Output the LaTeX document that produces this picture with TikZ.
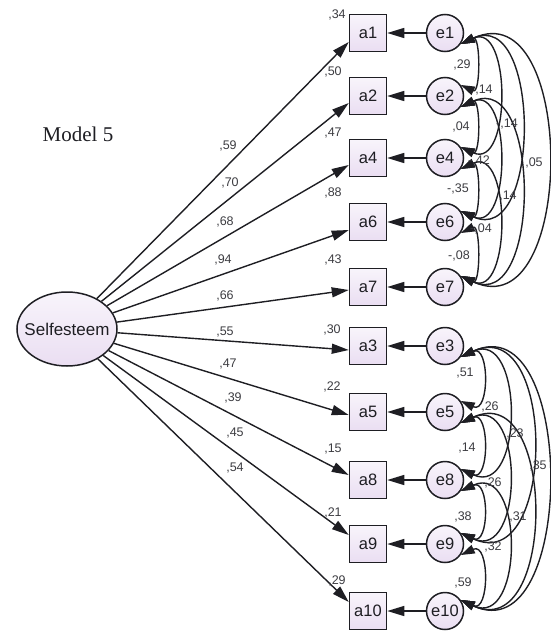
\documentclass[tikz,border=0pt]{standalone}
\usepackage{fontspec}
\setmainfont{Liberation Sans}
\newfontfamily\modelfont{Liberation Serif}
\usetikzlibrary{arrows.meta,shapes.geometric}
\definecolor{lav}{RGB}{234,222,242}
\definecolor{lavtop}{RGB}{248,244,251}
\definecolor{ink}{RGB}{30,30,35}
\definecolor{lbltxt}{RGB}{60,60,65}
\begin{document}
\begin{tikzpicture}[x=1pt,y=-1pt,
  obs/.style={draw=ink, line width=1.5pt, top color=lavtop, bottom color=lav, minimum width=37pt, minimum height=37pt, inner sep=0pt, font=\fontsize{16.5}{16.5}\selectfont, text=ink},
  err/.style={circle, draw=ink, line width=1.5pt, top color=lavtop, bottom color=lav, minimum size=37pt, inner sep=0pt, font=\fontsize{16.5}{16.5}\selectfont, text=ink},
  lat/.style={ellipse, draw=ink, line width=1.5pt, top color=lavtop, bottom color=lav, minimum width=100pt, minimum height=74pt, inner sep=0pt},
  lattxt/.style={inner sep=0pt, font=\fontsize{17}{17}\selectfont, text=ink},
  reg/.style={draw=ink, line width=1.4pt, -{Triangle[length=17pt,width=10pt]}},
  corr/.style={draw=ink, line width=1.4pt, {Triangle[length=14pt,width=9pt]}-{Triangle[length=14pt,width=9pt]}},
  lbl/.style={font=\fontsize{12.5}{12.5}\selectfont, text=lbltxt, inner sep=0pt}
]
\useasboundingbox (0,0) rectangle (550,632);

% latent
\node[lat] (se) at (67,329) {};
\node[lattxt] (setxt) at (se.center) {Selfesteem};
\node[font=\modelfont\fontsize{21}{21}\selectfont, text=ink, inner sep=0pt] (title) at (78,134) {Model 5};

% observed
\node[obs] (a1) at (368,33) {a1};
\node[obs] (a2) at (368,96) {a2};
\node[obs] (a4) at (368,158) {a4};
\node[obs] (a6) at (368,222) {a6};
\node[obs] (a7) at (368,287) {a7};
\node[obs] (a3) at (368,346) {a3};
\node[obs] (a5) at (368,412) {a5};
\node[obs] (a8) at (368,480) {a8};
\node[obs] (a9) at (368,544) {a9};
\node[obs] (a10) at (368,611) {a10};

% errors
\node[err] (e1) at (445,33) {e1};
\node[err] (e2) at (445,96) {e2};
\node[err] (e4) at (445,158) {e4};
\node[err] (e6) at (445,222) {e6};
\node[err] (e7) at (445,287) {e7};
\node[err] (e3) at (445,346) {e3};
\node[err] (e5) at (445,412) {e5};
\node[err] (e8) at (445,480) {e8};
\node[err] (e9) at (445,544) {e9};
\node[err] (e10) at (445,611) {e10};

% regressions (tips shifted along the left side of each box, as in the reference)
\foreach \a/\s in {a1/-9,a2/-7,a4/-7,a6/-8,a7/-3,a3/-4,a5/-3,a8/5,a9/9,a10/9}
  {\draw[reg] (se) -- ([yshift=\s pt]\a.west);}
\foreach \i in {1,2,4,6,7,3,5,8,9,10} {\draw[reg] (e\i) -- (a\i);}

% covariances top group
\draw[corr] (e1.-35) .. controls +(-25:22) and +(25:22) .. (e2.35);
\draw[corr] (e2.-35) .. controls +(-25:22) and +(25:22) .. (e4.35);
\draw[corr] (e4.-35) .. controls +(-25:22) and +(25:22) .. (e6.35);
\draw[corr] (e6.-35) .. controls +(-25:22) and +(25:22) .. (e7.35);
\draw[corr] (e1.-35) .. controls +(-25:56) and +(25:56) .. (e4.35);
\draw[corr] (e2.-35) .. controls +(-25:56) and +(25:56) .. (e6.35);
\draw[corr] (e4.-35) .. controls +(-25:56) and +(25:56) .. (e7.35);
\draw[corr] (e1.-35) .. controls +(-25:89) and +(25:89) .. (e6.35);
\draw[corr] (e2.-35) .. controls +(-25:89) and +(25:89) .. (e7.35);
\draw[corr] (e1.-35) .. controls +(-25:128) and +(25:128) .. (e7.35);

% covariances bottom group
\draw[corr] (e3.-35) .. controls +(-25:32) and +(25:32) .. (e5.35);
\draw[corr] (e5.-35) .. controls +(-25:32) and +(25:32) .. (e8.35);
\draw[corr] (e8.-35) .. controls +(-25:32) and +(25:32) .. (e9.35);
\draw[corr] (e9.-35) .. controls +(-25:32) and +(25:32) .. (e10.35);
\draw[corr] (e3.-35) .. controls +(-25:70) and +(25:70) .. (e8.35);
\draw[corr] (e5.-35) .. controls +(-25:70) and +(25:70) .. (e9.35);
\draw[corr] (e8.-35) .. controls +(-25:70) and +(25:70) .. (e10.35);
\draw[corr] (e3.-35) .. controls +(-25:106) and +(25:106) .. (e9.35);
\draw[corr] (e5.-35) .. controls +(-25:106) and +(25:106) .. (e10.35);
\draw[corr] (e3.-35) .. controls +(-25:128) and +(25:128) .. (e10.35);

% loadings
\node[lbl] (l1) at (228,146) {,59};
\node[lbl] (l2) at (230,183) {,70};
\node[lbl] (l4) at (225,222) {,68};
\node[lbl] (l6) at (223,260) {,94};
\node[lbl] (l7) at (225,296) {,66};
\node[lbl] (l3) at (225,332) {,55};
\node[lbl] (l5) at (228,364) {,47};
\node[lbl] (l8) at (233,398) {,39};
\node[lbl] (l9) at (235,433) {,45};
\node[lbl] (l10) at (235,468) {,54};

% squared multiple correlations
\node[lbl] (r1) at (337,15) {,34};
\node[lbl] (r2) at (333,72) {,50};
\node[lbl] (r4) at (333,133) {,47};
\node[lbl] (r6) at (333,193) {,88};
\node[lbl] (r7) at (333,260) {,43};
\node[lbl] (r3) at (332,330) {,30};
\node[lbl] (r5) at (332,387) {,22};
\node[lbl] (r8) at (333,449) {,15};
\node[lbl] (r9) at (333,513) {,21};
\node[lbl] (r10) at (337,581) {,29};

% covariance labels top
\node[lbl] (c12) at (462,65) {,29};
\node[lbl] (c14) at (484,90) {,14};
\node[lbl] (c16) at (507,124) {-,14};
\node[lbl] (c24) at (461,127) {,04};
\node[lbl] (c26) at (479,161) {-,42};
\node[lbl] (c17) at (534,163) {,05};
\node[lbl] (c46) at (458,189) {-,35};
\node[lbl] (c27) at (508,196) {,14};
\node[lbl] (c47) at (481,229) {-,04};
\node[lbl] (c67) at (459,256) {-,08};

% covariance labels bottom
\node[lbl] (c35) at (465,373) {,51};
\node[lbl] (c38) at (490,407) {,26};
\node[lbl] (c39) at (515,434) {,23};
\node[lbl] (c58) at (467,448) {,14};
\node[lbl] (c310) at (538,466) {,35};
\node[lbl] (c59) at (493,483) {,26};
\node[lbl] (c89) at (463,517) {,38};
\node[lbl] (c510) at (518,517) {,31};
\node[lbl] (c810) at (493,547) {,32};
\node[lbl] (c910) at (463,583) {,59};
\end{tikzpicture}
\end{document}
